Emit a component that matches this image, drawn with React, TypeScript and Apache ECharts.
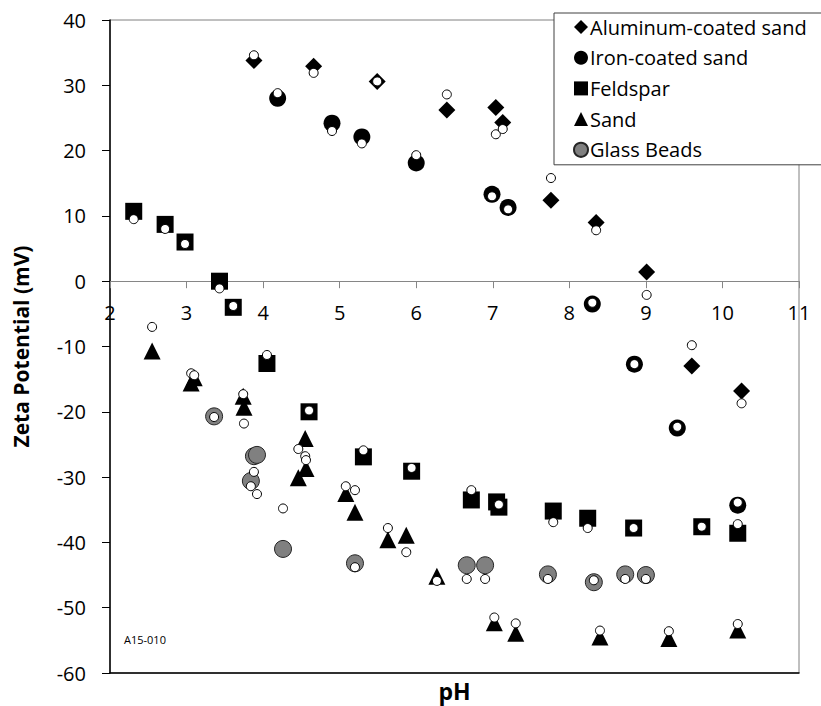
import React, { useEffect, useRef } from "react";
import * as echarts from "echarts";

// Measured zeta potentials (symbols) and model values (small open circles) per medium
const alPH = [3.88, 4.66, 5.49, 6.4, 7.04, 7.13, 7.76, 8.35, 9.01, 9.6, 10.25];
const alZeta = [33.8, 32.9, 30.6, 26.2, 26.6, 24.3, 12.4, 9.0, 1.4, -13.0, -16.8];
const alModel = [34.6, 31.9, 30.6, 28.6, 22.5, 23.3, 15.8, 7.8, -2.1, -9.8, -18.7];

const ironPH = [4.19, 4.9, 5.29, 6.0, 6.99, 7.2, 8.3, 8.85, 9.41, 10.2];
const ironZeta = [28.0, 24.2, 22.1, 18.1, 13.3, 11.3, -3.5, -12.7, -22.5, -34.3];
const ironModel = [28.8, 23.0, 21.1, 19.3, 13.0, 11.0, -3.3, -12.7, -22.3, -33.9];

const feldPH = [2.31, 2.72, 2.98, 3.43, 3.61, 4.05, 4.6, 5.31, 5.94, 6.72, 7.05, 7.08, 7.79, 8.24, 8.84, 9.73, 10.2];
const feldZeta = [10.7, 8.7, 6.0, 0.0, -4.0, -12.6, -20.0, -26.9, -29.1, -33.5, -33.8, -34.6, -35.2, -36.3, -37.8, -37.6, -38.6];
const feldModel = [9.5, 8.0, 5.7, -1.1, -3.8, -11.3, -19.8, -25.9, -28.6, -32.0, null, -34.2, -36.9, -37.8, -37.8, -37.6, -37.2];

const sandPH = [2.55, 3.06, 3.1, 3.74, 3.75, 4.46, 4.55, 4.56, 5.08, 5.2, 5.63, 5.87, 6.27, 7.02, 7.3, 8.4, 9.3, 10.2];
const sandZeta = [-10.7, -15.6, -14.8, -17.6, -19.3, -30.1, -24.1, -28.7, -32.5, -35.4, -39.6, -38.9, -45.2, -52.3, -53.9, -54.5, -54.7, -53.4];
const sandModel = [-7.0, -14.1, -14.4, -17.3, -21.8, -25.7, -26.8, -27.4, -31.4, -32.0, -37.8, -41.5, -45.9, -51.5, -52.4, -53.5, -53.6, -52.5];

const glassPH = [3.36, 3.88, 3.92, 3.84, 4.26, 5.2, 6.66, 6.9, 7.72, 8.32, 8.73, 9.0];
const glassZeta = [-20.7, -26.8, -26.6, -30.6, -41.0, -43.2, -43.5, -43.5, -44.9, -46.1, -44.9, -45.0];
const glassModel = [-20.8, -29.2, -32.6, -31.4, -34.8, -43.8, -45.6, -45.6, -45.6, -45.8, -45.6, -45.6];

const legendNames = ["Aluminum-coated sand", "Iron-coated sand", "Feldspar", "Sand", "Glass Beads"];
const xTicks = { min: 2, max: 11, interval: 1 };
const yTicks = { min: -60, max: 40, interval: 10 };

const FONT = "'Open Sans', sans-serif";
const W = 821;
const H = 706;
const GRID = { left: 110, right: 22, top: 20, bottom: 33 };
// the pH axis crosses the zeta axis at 0 mV
const plotH = H - GRID.top - GRID.bottom;
const zeroY = GRID.top + (plotH * yTicks.max) / (yTicks.max - yTicks.min);

function pairs(xs: number[], ys: (number | null)[]) {
  const out: number[][] = [];
  xs.forEach((x, i) => {
    const y = ys[i];
    if (y !== null && y !== undefined) out.push([x, y]);
  });
  return out;
}

function measured(name: string, symbol: string, xs: number[], ys: number[], fill: string, border: string) {
  return {
    name,
    type: "scatter",
    xAxisIndex: 0,
    yAxisIndex: 0,
    symbol,
    symbolSize: 17,
    data: pairs(xs, ys),
    itemStyle: { color: fill, borderColor: border, borderWidth: border === fill ? 0 : 1, opacity: 1 },
    z: 2,
  };
}

function model(xs: number[], ys: (number | null)[]) {
  return {
    name: "model",
    type: "scatter",
    xAxisIndex: 0,
    yAxisIndex: 0,
    symbol: "circle",
    symbolSize: 9,
    data: pairs(xs, ys),
    itemStyle: { color: "#ffffff", borderColor: "#000000", borderWidth: 1, opacity: 1 },
    z: 3,
  };
}

export default function App() {
  const ref = useRef<HTMLDivElement>(null);

  useEffect(() => {
    if (!ref.current) return;
    const chart = echarts.init(ref.current, null, { renderer: "svg" });
    chart.setOption({
      animation: false,
      textStyle: { fontFamily: FONT },
      grid: [
        { ...GRID, show: true, borderColor: "#808080", borderWidth: 1, outerBoundsMode: "none", containLabel: false },
        // upper half: its bottom edge is the 0 mV line that carries the pH ticks
        {
          left: GRID.left,
          right: GRID.right,
          top: GRID.top,
          bottom: H - zeroY,
          show: false,
          outerBoundsMode: "none",
          containLabel: false,
        },
      ],
      legend: {
        data: legendNames,
        orient: "vertical",
        left: 554,
        top: 13,
        padding: [4, 60, 5, 19],
        itemGap: 10.7,
        itemWidth: 14,
        itemHeight: 14,
        backgroundColor: "#ffffff",
        borderColor: "#404040",
        borderWidth: 1,
        itemStyle: { opacity: 1 },
        textStyle: { fontFamily: FONT, fontSize: 20, color: "#000", lineHeight: 20, padding: [0, 0, 0, -3] },
      },
      xAxis: [
        {
          type: "value",
          gridIndex: 0,
          ...xTicks,
          position: "bottom",
          axisLine: { show: true, onZero: false, lineStyle: { color: "#000", width: 1.5 } },
          axisTick: { show: false },
          axisLabel: { show: false },
          splitLine: { show: false },
          name: "pH",
          nameLocation: "middle",
          nameGap: 6,
          nameTextStyle: { fontFamily: FONT, fontWeight: "bold", fontSize: 23, color: "#000" },
        },
        {
          type: "value",
          gridIndex: 1,
          ...xTicks,
          position: "bottom",
          axisLine: { show: true, onZero: false, lineStyle: { color: "#868686", width: 1 } },
          axisTick: { show: true, length: 7, lineStyle: { color: "#868686" } },
          axisLabel: { fontSize: 20, color: "#000", margin: 21, fontFamily: FONT },
          splitLine: { show: false },
        },
      ],
      yAxis: [
        {
          type: "value",
          gridIndex: 0,
          ...yTicks,
          axisLine: { show: true, onZero: false, lineStyle: { color: "#000", width: 1.5 } },
          axisTick: { show: true, length: 8, lineStyle: { color: "#000" } },
          axisLabel: { fontSize: 20, color: "#000", margin: 24, fontFamily: FONT },
          splitLine: { show: false },
          name: "Zeta Potential (mV)",
          nameLocation: "middle",
          nameGap: 79,
          nameRotate: 90,
          nameTextStyle: { fontFamily: FONT, fontWeight: "bold", fontSize: 21, color: "#000" },
        },
        {
          type: "value",
          gridIndex: 1,
          min: 0,
          max: yTicks.max,
          show: false,
        },
      ],
      graphic: [
        {
          type: "text",
          left: 124,
          top: 634,
          style: { text: "A15-010", font: `11px ${FONT}`, fill: "#000" },
        },
      ],
      series: [
        measured("Aluminum-coated sand", "diamond", alPH, alZeta, "#000000", "#000000"),
        measured("Iron-coated sand", "circle", ironPH, ironZeta, "#000000", "#000000"),
        measured("Feldspar", "rect", feldPH, feldZeta, "#000000", "#000000"),
        measured("Sand", "triangle", sandPH, sandZeta, "#000000", "#000000"),
        measured("Glass Beads", "circle", glassPH, glassZeta, "#808080", "#262626"),
        model(alPH, alModel),
        model(ironPH, ironModel),
        model(feldPH, feldModel),
        model(sandPH, sandModel),
        model(glassPH, glassModel),
      ],
    });
    return () => chart.dispose();
  }, []);

  return <div ref={ref} style={{ width: W, height: H, position: "absolute", left: 0, top: 0 }} />;
}
